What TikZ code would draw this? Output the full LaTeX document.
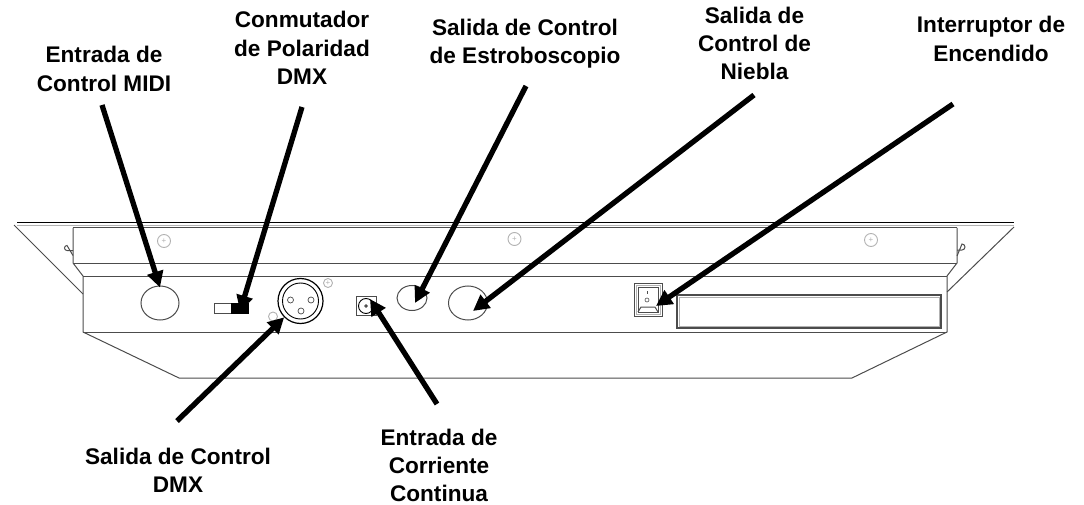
\documentclass[tikz,border=0pt]{standalone}
\usepackage{fontspec}
\setmainfont{Liberation Sans}
\usetikzlibrary{shapes.geometric, arrows.meta}
\definecolor{bodygray}{gray}{0.3}
\definecolor{screwgray}{gray}{0.7}
\tikzset{
    caption/.style={align=center, font=\bfseries\fontsize{22.6}{28.3}\selectfont, inner sep=0pt},
    pointer/.style={line width=5.3pt, -{Triangle[length=16pt, width=16pt]}},
    outline/.style={draw=bodygray, line width=1pt},
    hole/.style={ellipse, draw=bodygray, line width=1pt, inner sep=0pt},
    framed/.style={draw=bodygray, line width=1.2pt, inner sep=0pt},
    screw/.style={circle, draw=screwgray, line width=0.9pt, inner sep=0pt},
}
\begin{document}
\begin{tikzpicture}[x=1pt, y=-1pt]
        \useasboundingbox (0, 0) rectangle (1084, 505);

        % console body
        \draw[black, line width=1pt] (17, 222.7) -- (1014, 222.7);
        \draw[screwgray, line width=1.4pt] (17, 225.3) -- (1014, 225.3);
        \draw[outline] (14, 225) -- (83, 294);
        \draw[outline] (1014, 227) -- (947, 292);
        \draw[outline] (73, 228) -- (957, 228);
        \draw[outline] (73, 228) -- (73, 263) -- (83, 276) -- (83, 332) -- (179, 378)
            -- (852, 378) -- (947, 332) -- (947, 276) -- (957, 263) -- (957, 228);
        \draw[outline] (73, 263) -- (957, 263);
        \draw[outline] (83, 276) -- (947, 276);
        \draw[outline] (83, 332) -- (947, 332);
        \draw[outline] (73, 250.5) -- (67, 250.5) arc (90:270:2.5) -- (73, 255.5);
        \draw[outline] (957, 250) -- (962, 250) arc (90:-90:3) -- (957, 256);

        % screws
        \foreach \name/\x/\y/\size in {screwA/164/241/13, screwB/514.5/239/13, screwC/871/240/13, screwD/328/283/9} {
            \node[screw, minimum size=\size pt] (\name) at (\x, \y) {};
            \node[font=\fontsize{8}{8}\selectfont, text=screwgray, inner sep=0pt] (\name mark) at (\x, \y) {+};
        }
        \node[screw, minimum size=9pt] (screwE) at (273, 316.5) {};

        % connectors on the back panel
        \node[hole, minimum width=38pt, minimum height=34pt] (midiIn) at (160, 303) {};
        \node[hole, minimum width=30pt, minimum height=25pt] (strobeOut) at (412, 298) {};
        \node[hole, minimum width=39pt, minimum height=34pt] (fogOut) at (468, 303) {};

        \node[draw=bodygray, line width=1pt, inner sep=0pt, minimum width=34pt, minimum height=10pt] (polaritySwitch) at (231, 308) {};
        \filldraw[fill=black, draw=black] (231, 303) rectangle (248, 313);

        \node[circle, draw=black, line width=1.2pt, fill=white, inner sep=0pt, minimum size=45pt] (dmxOut) at (300.5, 301) {};
        \node[circle, draw=black, line width=0.9pt, inner sep=0pt, minimum size=36pt] (dmxInner) at (300.5, 301) {};
        \foreach \x/\y in {290.5/300, 311/300, 301/311} {
            \draw[bodygray, line width=0.7pt] (\x, \y) circle (3);
        }

        \node[draw=bodygray, line width=0.8pt, inner sep=0pt, minimum width=20pt, minimum height=19pt] (dcBox) at (366, 305.5) {};
        \node[circle, draw=black, line width=0.9pt, inner sep=0pt, minimum size=15pt] (dcIn) at (366, 306) {};
        \filldraw[fill=bodygray, draw=bodygray] (366, 306) circle (1.5);

        \node[framed, line width=1pt, minimum width=28pt, minimum height=33pt] (powerSwitch) at (648, 299.5) {};
        \draw[screwgray, line width=1pt] (636, 285) rectangle (660, 314);
        \draw[outline] (638, 287) rectangle (658, 312);
        \draw[outline] (638, 312) -- (641, 307) -- (655, 307) -- (658, 312);
        \draw[bodygray, line width=0.7pt] (647, 291) -- (647, 294);
        \draw[bodygray, line width=0.6pt] (647, 300) circle (2);

        \node[framed, minimum width=264pt, minimum height=33pt] (displayPanel) at (809, 311.5) {};
        \draw[screwgray, line width=1pt] (679, 297) rectangle (939, 326);

        % labels
        \node[caption] (midiLabel) at (104, 69) {Entrada de\\Control MIDI};
        \node[caption] (polarityLabel) at (302, 48) {Conmutador\\de Polaridad\\DMX};
        \node[caption] (strobeLabel) at (525, 44) {Salida de Control\\de Estroboscopio};
        \node[caption] (fogLabel) at (754.5, 43.5) {Salida de\\Control de\\Niebla};
        \node[caption] (powerLabel) at (991, 39) {Interruptor de\\Encendido};
        \node[caption] (dmxLabel) at (178, 470) {Salida de Control\\DMX};
        \node[caption] (dcLabel) at (439, 465.5) {Entrada de\\Corriente\\Continua};

        % arrows
        \coordinate (midiTail) at (102, 105);
        \coordinate (polarityTail) at (302, 107);
        \coordinate (strobeTail) at (526, 86);
        \coordinate (fogTail) at (754, 95);
        \coordinate (powerTail) at (953, 104);
        \coordinate (dmxTail) at (177, 421);
        \coordinate (dcTail) at (437, 404);

        \draw[pointer] (midiTail) -- ([yshift=-2pt]midiIn.north);
        \draw[pointer] (polarityTail) -- ([xshift=9pt, yshift=-9pt]polaritySwitch.north);
        \draw[pointer] (strobeTail) -- ([xshift=3pt, yshift=-5pt]strobeOut.center);
        \draw[pointer] (fogTail) -- ([xshift=5pt, yshift=-8pt]fogOut.center);
        \draw[pointer] (powerTail) -- ([xshift=8pt, yshift=-6.5pt]powerSwitch.center);
        \draw[pointer] (dmxTail) -- (dmxOut.225);
        \draw[pointer] (dcTail) -- ([xshift=4pt, yshift=7pt]dcIn.center);
        \end{tikzpicture}
\end{document}
